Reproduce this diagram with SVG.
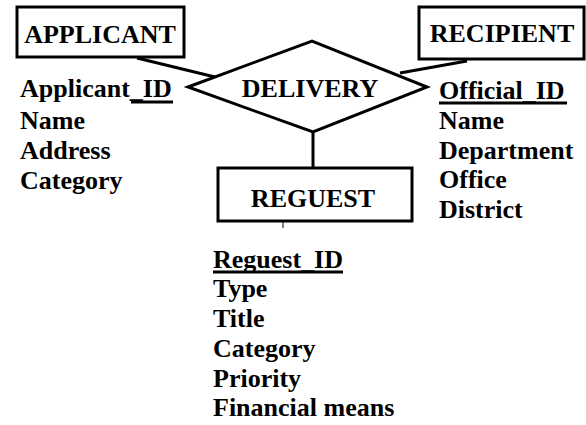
<svg xmlns="http://www.w3.org/2000/svg" width="586" height="425" viewBox="0 0 586 425">
  <style>
    .shape { fill: #ffffff; stroke: #000000; stroke-width: 3; }
    .link { fill: none; stroke: #000000; stroke-width: 3; }
    .label { font-family: "Liberation Serif", "Times New Roman", serif; font-weight: bold; font-size: 26px; fill: #000000; }
    .mid { text-anchor: middle; }
    .key { stroke: #000000; stroke-width: 3; }
  </style>
  <rect width="586" height="425" fill="#ffffff"/>

  <!-- relationship lines -->
  <g id="connectors">
    <line class="link" x1="137" y1="58" x2="215" y2="77"/>
    <line class="link" x1="400" y1="73" x2="467" y2="61"/>
    <line class="link" x1="313" y1="132" x2="313" y2="168"/>
    <line class="link" x1="283" y1="221" x2="283" y2="228" style="stroke-width:1"/>
  </g>

  <g id="applicant">
    <rect class="shape" x="17" y="7" width="167" height="50"/>
    <text class="label mid" x="100" y="43">APPLICANT</text>
    <text class="label" x="20" y="97">Applicant_ID</text>
    <line class="key" x1="131" y1="102" x2="173" y2="102"/>
    <text class="label" x="20" y="129">Name</text>
    <text class="label" x="20" y="159">Address</text>
    <text class="label" x="20" y="189">Category</text>
  </g>

  <g id="delivery">
    <polygon class="shape" points="188,87 312,41 427,87 313,132"/>
    <text class="label mid" x="310" y="97">DELIVERY</text>
  </g>

  <g id="recipient">
    <rect class="shape" x="419" y="7" width="165" height="52"/>
    <text class="label mid" x="502" y="42">RECIPIENT</text>
    <text class="label" x="439" y="99">Official_ID</text>
    <line class="key" x1="439" y1="103" x2="567" y2="103"/>
    <text class="label" x="439" y="129">Name</text>
    <text class="label" x="439" y="159">Department</text>
    <text class="label" x="439" y="188">Office</text>
    <text class="label" x="439" y="218">District</text>
  </g>

  <g id="request">
    <rect class="shape" x="218" y="168" width="194" height="53"/>
    <text class="label mid" x="313" y="207">REGUEST</text>
    <text class="label" x="213" y="268">Reguest_ID</text>
    <line class="key" x1="213" y1="272" x2="343" y2="272"/>
    <text class="label" x="213" y="297">Type</text>
    <text class="label" x="213" y="327">Title</text>
    <text class="label" x="213" y="357">Category</text>
    <text class="label" x="213" y="387">Priority</text>
    <text class="label" x="213" y="416">Financial means</text>
  </g>
</svg>
